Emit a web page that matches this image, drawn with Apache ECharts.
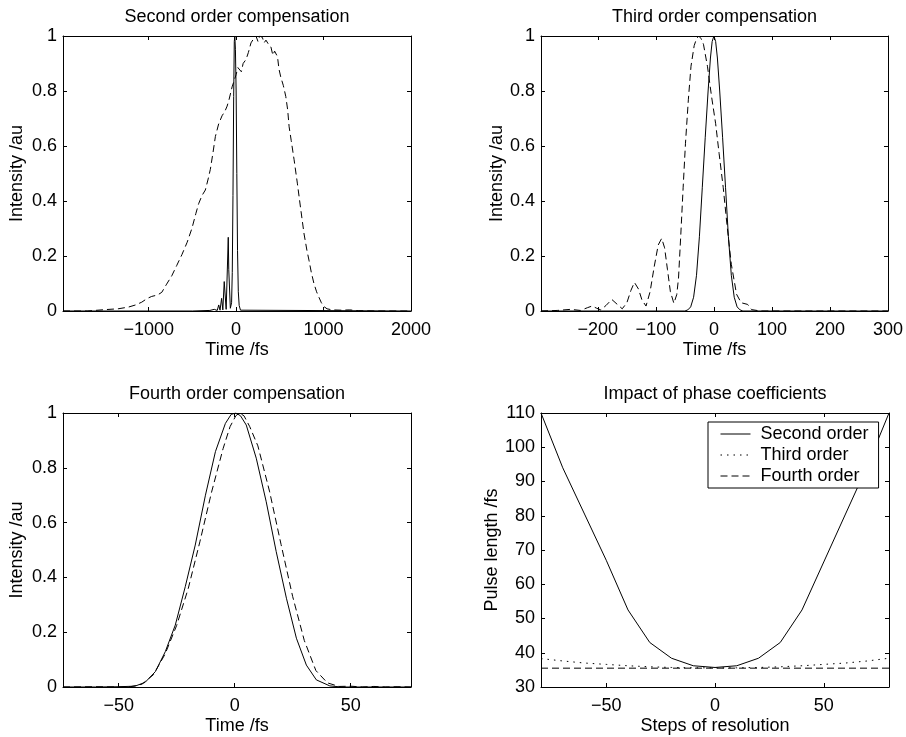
<!DOCTYPE html>
<html>
<head>
<meta charset="utf-8">
<script src="https://cdn.jsdelivr.net/npm/echarts@6/dist/echarts.min.js"></script>
<style>
  html, body { margin: 0; padding: 0; background: #fff; }
  #chart { width: 906px; height: 737px; }
</style>
</head>
<body>
<div id="chart"></div>
<script>
// Second order compensation (time fs, intensity au)
var secondSolid = [
    [-1980, 0], [-500, 0], [-300, 0.002], [-250, 0.006], [-241, 0.002], [-231, 0.011], [-216, 0.002],
    [-199, 0.022], [-184, 0.003], [-166, 0.046], [-152, 0.004], [-136, 0.107], [-114, 0.006],
    [-96, 0.2], [-90, 0.268], [-84, 0.15], [-66, 0.01], [-52, 0.03], [-44, 0.14], [-36, 0.42],
    [-28, 0.78], [-21, 0.98], [-15, 1.0], [-8, 0.95], [0, 0.8], [8, 0.5], [16, 0.22], [25, 0.07],
    [35, 0.02], [50, 0.003], [70, 0], [2000, 0]
];
var secondDashed = [
    [-1980, 0], [-1700, 0], [-1500, 0.005], [-1350, 0.008], [-1234, 0.014], [-1150, 0.022],
    [-1080, 0.032], [-1020, 0.045], [-966, 0.053], [-900, 0.058], [-850, 0.068], [-800, 0.095],
    [-736, 0.128], [-680, 0.165], [-620, 0.205], [-560, 0.25], [-506, 0.3], [-460, 0.355],
    [-429, 0.39], [-390, 0.42], [-352, 0.44], [-320, 0.48], [-295, 0.515], [-265, 0.575],
    [-237, 0.635], [-200, 0.68], [-161, 0.71], [-130, 0.725], [-103, 0.745], [-80, 0.77],
    [-46, 0.815], [-20, 0.84], [0, 0.86], [20, 0.885], [38, 0.89], [60, 0.87], [80, 0.9],
    [114, 0.915], [140, 0.94], [170, 0.975], [200, 0.99], [227, 1.0], [250, 0.98], [270, 1.0],
    [300, 0.995], [320, 0.975], [341, 0.985], [370, 0.97], [398, 0.96], [420, 0.93], [440, 0.945],
    [473, 0.925], [490, 0.88], [511, 0.85], [540, 0.82], [568, 0.78], [590, 0.73], [606, 0.67],
    [630, 0.62], [663, 0.55], [700, 0.465], [739, 0.37], [777, 0.28], [810, 0.22], [833, 0.185],
    [860, 0.14], [890, 0.1], [920, 0.07], [947, 0.05], [975, 0.03], [1004, 0.016], [1040, 0.008],
    [1100, 0.004], [1200, 0.003], [1300, 0.004], [1400, 0.001], [1600, 0], [2000, 0]
];

// Third order compensation
var thirdSolid = [
    [-298, 0], [-50, 0], [-45, 0.004], [-40, 0.015], [-35, 0.05], [-30, 0.13], [-25, 0.27],
    [-20, 0.45], [-15, 0.63], [-10, 0.8], [-6, 0.92], [-3, 0.98], [0, 1.0], [3, 0.98], [6, 0.92],
    [10, 0.8], [15, 0.63], [20, 0.45], [25, 0.27], [30, 0.13], [35, 0.05], [40, 0.015], [45, 0.004],
    [50, 0], [300, 0]
];
var thirdDashed = [
    [-298, 0], [-270, 0.002], [-247, 0.006], [-230, 0.002], [-218, 0.012], [-210, 0.018],
    [-202, 0.01], [-195, 0.004], [-186, 0.02], [-176, 0.042], [-167, 0.025], [-158, 0.008],
    [-150, 0.03], [-143, 0.075], [-137, 0.104], [-130, 0.08], [-124, 0.04], [-117, 0.018],
    [-110, 0.07], [-103, 0.16], [-96, 0.24], [-90, 0.264], [-85, 0.23], [-80, 0.15], [-75, 0.07],
    [-69, 0.028], [-64, 0.06], [-61, 0.12], [-57, 0.28], [-53, 0.45], [-49, 0.61], [-44, 0.77],
    [-39.5, 0.89], [-34, 0.965], [-30, 0.99], [-26, 1.0], [-22, 0.99], [-18, 0.97], [-11, 0.888],
    [-4, 0.779], [3, 0.681], [9, 0.572], [16, 0.45], [23, 0.304], [30, 0.17], [39, 0.061],
    [47, 0.03], [58, 0.024], [65, 0.005], [80, 0], [300, 0]
];

// Fourth order compensation
var fourthSolid = [
    [-74, 0], [-60, 0], [-50, 0.001], [-43, 0.003], [-38.6, 0.017], [-34.2, 0.056], [-29.9, 0.129],
    [-25.6, 0.226], [-21.3, 0.366], [-17, 0.518], [-12.6, 0.7], [-8.3, 0.859], [-4, 0.962],
    [-1.5, 0.995], [0.5, 1.0], [2.5, 0.99], [5, 0.956], [9.3, 0.835], [13.6, 0.676], [17.9, 0.494],
    [22.3, 0.324], [26.6, 0.178], [30.9, 0.08], [35.2, 0.026], [41, 0.004], [46, 0], [76, 0]
];
var fourthDashed = [
    [-74, 0], [-60, 0.001], [-50, 0], [-45, 0.001], [-40, 0.01], [-35, 0.045], [-30, 0.12],
    [-25, 0.225], [-20, 0.36], [-15, 0.53], [-10, 0.71], [-5, 0.87], [-2, 0.95], [0.5, 0.99],
    [2, 1.0], [4, 0.99], [6.5, 0.95], [10, 0.88], [15, 0.715], [20, 0.52], [25, 0.33], [30, 0.17],
    [35, 0.06], [40, 0.015], [45, 0.002], [50, 0.003], [55, 0], [60, 0.002], [65, 0], [70, 0.001], [76, 0]
];

// Impact of phase coefficients
var steps = [-80, -70, -60, -50, -40, -30, -20, -10, 0, 10, 20, 30, 40, 50, 60, 70, 80];
var secondOrder = [110, 94, 80.5, 67, 52.5, 43, 38.4, 36.2, 35.7, 36.2, 38.4, 43, 52.5, 66.5, 80.5, 94.5, 110];
var thirdOrder = [38.3, 37.6, 37.0, 36.6, 36.2, 35.9, 35.7, 35.6, 35.6, 35.6, 35.7, 35.9, 36.2, 36.6, 37.0, 37.6, 38.4];
var fourthOrder = [35.5, 35.5, 35.5, 35.5, 35.5, 35.5, 35.5, 35.5, 35.5, 35.5, 35.5, 35.5, 35.5, 35.5, 35.5, 35.5, 35.5];
var legendNames = ['Second order', 'Third order', 'Fourth order'];

var FONT = '"Liberation Sans", Arial, Helvetica, sans-serif';
var FS = 18;
var DASH = [7, 4];
var DOT = [1.5, 5];

function minus(v) {
    return String(v).replace('-', '\u2212');
}

var panels = [
    {title: 'Second order compensation', xName: 'Time /fs', yName: 'Intensity /au',
        left: 63, top: 36, width: 348, height: 275, xMin: -1980, xMax: 2000, xTicks: [-1000, 0, 1000, 2000],
        yMin: 0, yMax: 1, yStep: 0.2},
    {title: 'Third order compensation', xName: 'Time /fs', yName: 'Intensity /au',
        left: 541, top: 36, width: 348, height: 275, xMin: -298, xMax: 300, xTicks: [-200, -100, 0, 100, 200, 300],
        yMin: 0, yMax: 1, yStep: 0.2},
    {title: 'Fourth order compensation', xName: 'Time /fs', yName: 'Intensity /au',
        left: 63, top: 413, width: 348, height: 274, xMin: -74, xMax: 76, xTicks: [-50, 0, 50],
        yMin: 0, yMax: 1, yStep: 0.2},
    {title: 'Impact of phase coefficients', xName: 'Steps of resolution', yName: 'Pulse length /fs',
        left: 541, top: 413, width: 348, height: 274, xMin: -80, xMax: 80, xTicks: [-50, 0, 50],
        yMin: 30, yMax: 110, yStep: 10}
];

var textStyle = {fontSize: FS, color: '#000', fontFamily: FONT};
var grids = [], xAxes = [], yAxes = [];

panels.forEach(function (p, i) {
    grids.push({left: p.left, top: p.top, width: p.width, height: p.height, show: false});
    var line = {onZero: false, lineStyle: {color: '#000', width: 1}};
    var tick = {inside: true, length: 4, customValues: p.xTicks, lineStyle: {color: '#000'}};
    xAxes.push({
        gridIndex: i, type: 'value', position: 'bottom', min: p.xMin, max: p.xMax,
        name: p.xName, nameLocation: 'middle', nameGap: 30, nameTextStyle: textStyle,
        axisLine: line, axisTick: tick,
        axisLabel: {customValues: p.xTicks, margin: 10, formatter: minus, fontSize: FS, color: '#000', fontFamily: FONT},
        splitLine: {show: false}
    });
    xAxes.push({
        gridIndex: i, type: 'value', position: 'top', min: p.xMin, max: p.xMax,
        name: p.title, nameLocation: 'middle', nameGap: 10, nameTextStyle: textStyle,
        axisLine: line, axisTick: tick, axisLabel: {show: false}, splitLine: {show: false}
    });
    var ytick = {inside: true, length: 4, lineStyle: {color: '#000'}};
    yAxes.push({
        gridIndex: i, type: 'value', position: 'left', min: p.yMin, max: p.yMax, interval: p.yStep,
        name: p.yName, nameLocation: 'middle', nameGap: i % 2 ? 35 : 37, nameTextStyle: textStyle,
        axisLine: line, axisTick: ytick,
        axisLabel: {margin: 6, fontSize: FS, color: '#000', fontFamily: FONT},
        splitLine: {show: false}
    });
    yAxes.push({
        gridIndex: i, type: 'value', position: 'right', min: p.yMin, max: p.yMax, interval: p.yStep,
        axisLine: line, axisTick: ytick, axisLabel: {show: false}, splitLine: {show: false}
    });
});

function curve(data, i, dash, name) {
    return {
        name: name, type: 'line', data: data, xAxisIndex: 2 * i, yAxisIndex: 2 * i,
        symbol: 'none', showSymbol: false, clip: true, silent: true,
        lineStyle: {color: '#000', width: 1, type: dash || 'solid'},
        itemStyle: {color: '#000'}
    };
}

function zip(xs, ys) {
    return xs.map(function (x, k) { return [x, ys[k]]; });
}

var chart = echarts.init(document.getElementById('chart'));
chart.setOption({
    animation: false,
    backgroundColor: '#fff',
    grid: grids,
    xAxis: xAxes,
    yAxis: yAxes,
    legend: {
        data: legendNames,
        orient: 'vertical', left: 708, top: 422,
        padding: [3, 10, 3, 12], itemGap: 3, itemWidth: 30, itemHeight: 12,
        backgroundColor: '#fff', borderColor: '#000', borderWidth: 1, borderRadius: 0,
        itemStyle: {opacity: 0, color: 'rgba(0,0,0,0)', borderColor: 'rgba(0,0,0,0)', borderWidth: 0},
        lineStyle: {width: 1},
        textStyle: {fontSize: FS, color: '#000', fontFamily: FONT, padding: [0, 0, 0, 5]},
        selectedMode: false
    },
    series: [
        curve(secondSolid, 0),
        curve(secondDashed, 0, DASH),
        curve(thirdSolid, 1),
        curve(thirdDashed, 1, DASH),
        curve(fourthSolid, 2),
        curve(fourthDashed, 2, DASH),
        curve(zip(steps, secondOrder), 3, 'solid', legendNames[0]),
        curve(zip(steps, thirdOrder), 3, DOT, legendNames[1]),
        curve(zip(steps, fourthOrder), 3, DASH, legendNames[2])
    ]
});
</script>
</body>
</html>
